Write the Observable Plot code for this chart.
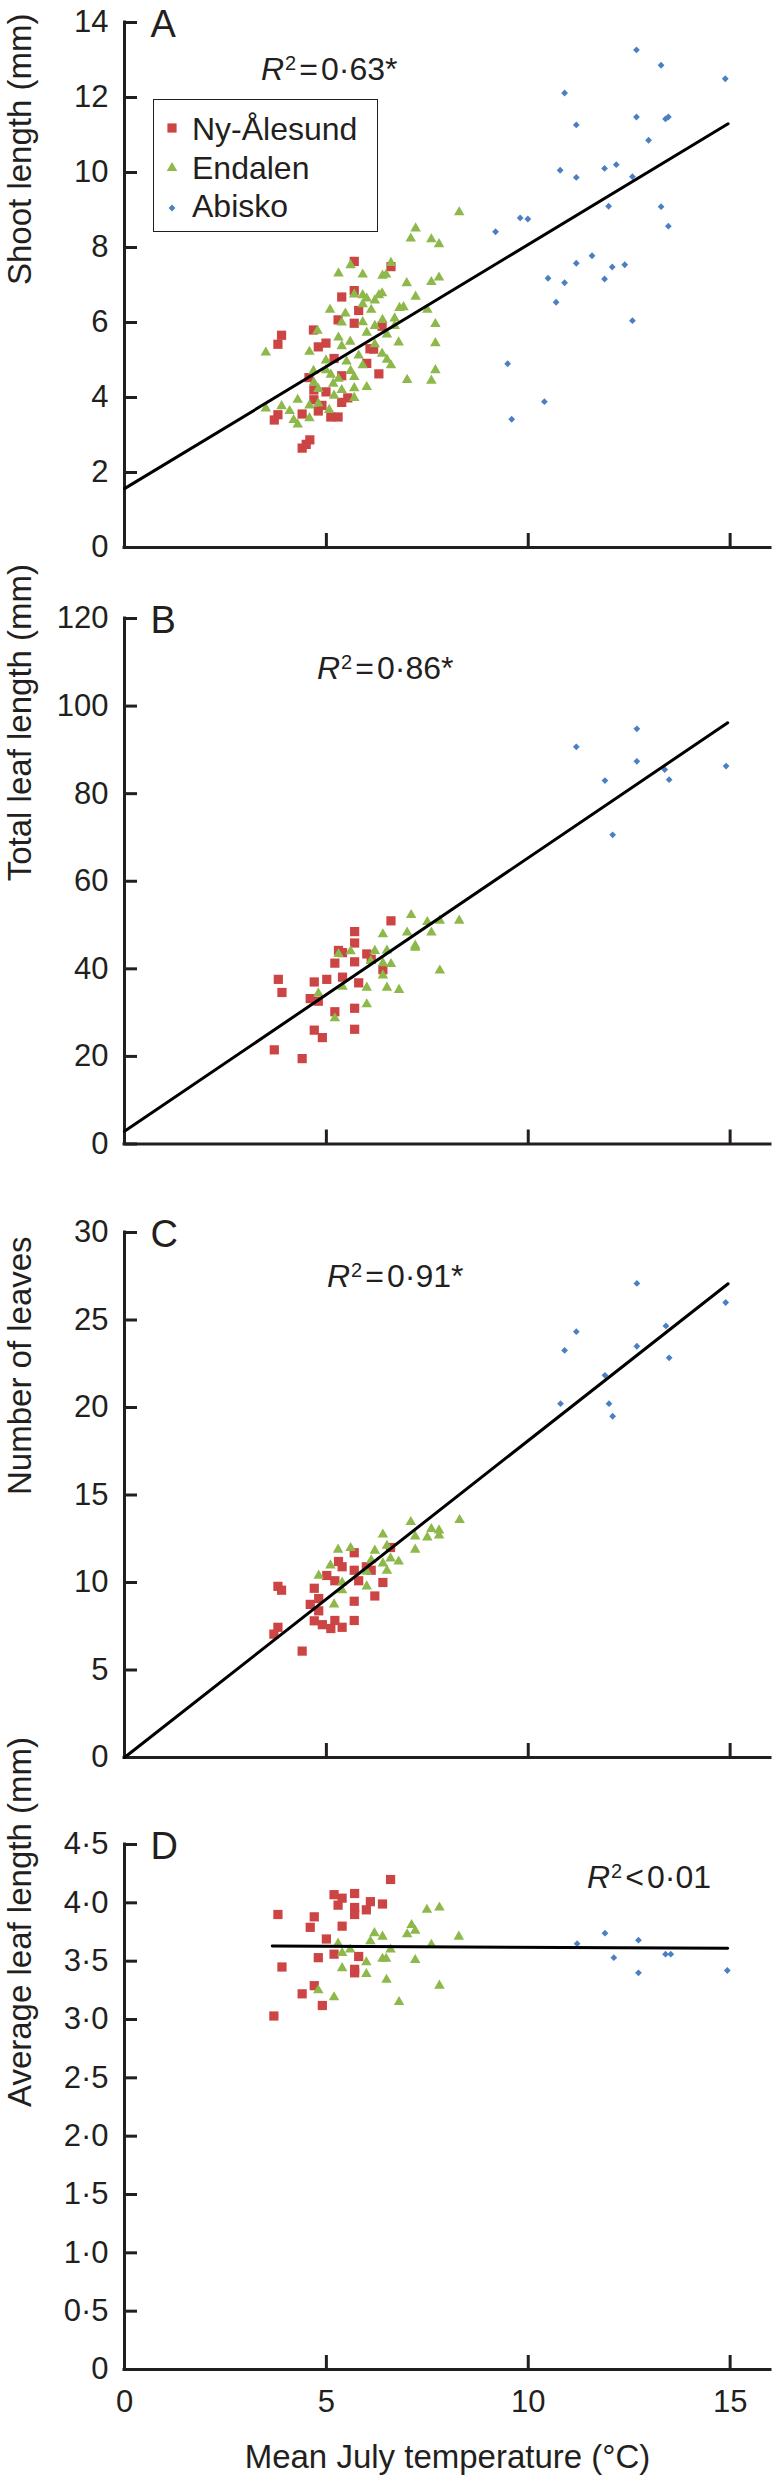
<!DOCTYPE html>
<html><head><meta charset="utf-8">
<script src="https://cdn.jsdelivr.net/npm/d3@7"></script>
<script src="https://cdn.jsdelivr.net/npm/@observablehq/plot@0.6"></script>
<style>
body{margin:0;background:#fff;}
#wrap{position:relative;width:776px;height:2475px;overflow:hidden;font-family:"Liberation Sans",Arial,Helvetica,sans-serif;color:#231f20;}
.panel{position:absolute;left:0;}
.ann{position:absolute;font-size:32px;line-height:32px;white-space:nowrap;}
.ann .sup{font-size:20px;position:relative;top:-10px;margin-left:1px;}
.ann .op{margin:0 3px;}
.legbox{position:absolute;border:1.5px solid #231f20;box-sizing:border-box;}
.legtxt{position:absolute;font-size:32px;line-height:32px;white-space:nowrap;}
.legsw{position:absolute;}
</style></head>
<body><div id="wrap"></div>
<script>
// ---------- data ----------
const seriesNames = ["Ny-Ålesund", "Endalen", "Abisko"];
const seriesColors = ["#cc4443", "#8db84a", "#4a7fc2"];
const xTitle = "Mean July temperature (°C)";
const xTicks = [5, 10, 15];
const xLabelTicks = [0, 5, 10, 15];
const xTickLabels = ["0", "5", "10", "15"];

// Panel A: shoot length
const shootTicks = [0, 2, 4, 6, 8, 10, 12, 14];
const shootTickLabels = ["0", "2", "4", "6", "8", "10", "12", "14"];
const shootNy = [[5.69,7.63],[6.60,7.49],[5.69,6.85],[5.38,6.68],[5.80,6.32],[5.29,6.07],[5.69,5.98],[6.38,5.90],[4.68,5.80],[3.89,5.66],[3.80,5.42],[4.99,5.45],[4.80,5.35],[6.08,5.30],[6.17,5.29],[5.19,5.04],[6.00,4.91],[4.57,4.53],[5.38,4.58],[6.30,4.63],[4.99,4.15],[4.69,4.20],[5.53,3.99],[5.38,3.87],[4.69,3.94],[4.89,3.79],[4.40,3.56],[4.80,3.64],[3.80,3.54],[3.71,3.40],[5.11,3.48],[5.29,3.48],[4.59,2.87],[4.50,2.75],[4.40,2.65]];
const shootEn = [[8.29,8.94],[7.21,8.51],[7.09,8.24],[7.60,8.22],[7.79,8.09],[5.60,7.53],[6.60,7.59],[5.30,7.31],[5.90,7.28],[6.39,7.25],[6.48,7.28],[7.79,7.20],[7.60,7.08],[6.99,7.05],[5.69,6.75],[5.90,6.73],[6.00,6.64],[6.30,6.73],[6.38,6.78],[7.21,6.69],[5.90,6.49],[6.20,6.59],[5.09,6.34],[5.47,6.24],[6.11,6.34],[6.81,6.39],[6.91,6.41],[7.50,6.34],[5.38,6.00],[5.90,6.01],[6.39,6.07],[6.69,6.11],[4.78,5.78],[6.20,5.91],[6.69,5.91],[7.70,5.96],[6.00,5.73],[6.50,5.68],[5.30,5.60],[5.59,5.49],[5.38,5.37],[4.58,5.22],[3.50,5.20],[6.20,5.42],[6.79,5.47],[7.70,5.45],[5.80,5.12],[6.38,5.17],[6.50,5.01],[4.99,4.99],[5.50,4.96],[6.60,4.86],[5.90,4.86],[4.68,4.71],[4.99,4.73],[5.60,4.71],[7.70,4.73],[5.11,4.61],[5.30,4.50],[5.69,4.55],[7.00,4.47],[7.60,4.45],[4.69,4.40],[5.17,4.37],[5.38,4.20],[5.69,4.25],[6.00,4.28],[4.80,4.23],[4.29,3.94],[5.19,4.05],[5.69,3.99],[4.58,3.79],[4.80,3.84],[3.89,3.77],[3.50,3.71],[4.09,3.64],[5.07,3.67],[4.19,3.40],[4.29,3.28],[4.58,3.45]];
const shootAb = [[12.68,13.27],[13.29,12.86],[14.88,12.50],[10.90,12.12],[12.68,11.48],[13.40,11.43],[13.47,11.48],[11.19,11.27],[12.98,10.86],[12.18,10.21],[11.89,10.11],[10.79,10.06],[11.19,9.87],[12.58,9.89],[11.99,9.10],[13.29,9.09],[9.80,8.79],[9.99,8.76],[13.47,8.57],[9.19,8.42],[11.58,7.78],[11.19,7.58],[12.39,7.54],[12.08,7.48],[11.89,7.16],[10.49,7.18],[10.90,7.06],[10.69,6.54],[12.58,6.05],[9.49,4.90],[10.40,3.89],[9.59,3.42]];
const shootFit = [[0, 1.57], [14.95, 11.3]];

// Panel B: total leaf length
const totalTicks = [0, 20, 40, 60, 80, 100, 120];
const totalTickLabels = ["0", "20", "40", "60", "80", "100", "120"];
const totalNy = [[6.60,50.96],[5.70,48.5],[5.70,45.9],[5.30,44.2],[5.40,43.7],[6.00,43.4],[5.21,41.3],[5.70,41.6],[6.11,42.2],[6.40,39.8],[3.81,37.6],[5.01,37.6],[5.40,38.1],[4.70,37.0],[5.80,36.8],[3.90,34.6],[4.60,33.2],[4.80,32.6],[5.21,30.2],[5.70,31.0],[4.70,26.0],[4.90,24.3],[5.70,26.2],[3.71,21.5],[4.40,19.5]];
const totalEn = [[7.10,52.3],[7.50,50.7],[7.81,51.0],[8.29,51.0],[7.00,48.3],[7.60,48.3],[6.40,47.9],[5.60,44.0],[6.20,44.1],[6.50,44.2],[5.30,43.4],[7.20,45.3],[7.20,44.8],[6.10,41.8],[6.40,41.3],[6.60,41.1],[6.40,38.5],[7.81,39.6],[4.80,34.4],[5.40,35.9],[6.00,35.7],[6.50,35.7],[6.80,35.2],[6.00,31.9],[5.21,28.7]];
const totalAb = [[12.69,94.8],[11.19,90.7],[12.69,87.4],[14.90,86.3],[13.38,85.5],[11.90,83.0],[13.49,83.2],[12.09,70.6]];
const totalFit = [[0, 2.9], [14.94, 96.2]];

// Panel C: number of leaves
const leavesTicks = [0, 5, 10, 15, 20, 25, 30];
const leavesTickLabels = ["0", "5", "10", "15", "20", "25", "30"];
const leavesNy = [[5.69,11.7],[5.30,11.2],[5.39,10.9],[6.59,12.0],[5.99,10.9],[5.69,10.7],[6.11,10.7],[5.01,10.4],[5.21,10.1],[5.80,10.1],[6.40,10.0],[3.80,9.78],[3.89,9.56],[4.70,9.67],[4.81,9.08],[6.20,9.23],[4.60,8.75],[5.69,8.93],[4.81,8.38],[4.70,7.81],[4.90,7.59],[5.21,7.83],[5.69,7.83],[3.80,7.44],[3.70,7.05],[5.11,7.37],[5.39,7.44],[4.40,6.08]];
const leavesEn = [[7.09,13.46],[8.30,13.57],[7.60,13.06],[7.79,12.98],[7.79,12.69],[7.20,12.63],[7.50,12.58],[6.40,12.74],[5.29,11.88],[5.60,11.97],[6.20,11.82],[7.20,11.88],[6.50,12.10],[6.11,11.27],[6.59,11.38],[6.79,11.20],[6.40,11.09],[5.10,10.98],[6.50,10.68],[6.00,10.61],[4.81,10.39],[5.39,10.0],[5.39,9.56],[6.00,9.78],[5.19,8.75]];
const leavesAb = [[12.69,27.09],[14.89,26.0],[11.19,24.33],[13.41,24.66],[10.90,23.26],[12.69,23.50],[13.49,22.84],[11.90,21.84],[10.80,20.22],[12.00,20.22],[12.09,19.50]];
const leavesFit = [[0, 0], [14.95, 27.07]];

// Panel D: average leaf length
const avgTicks = [0, 0.5, 1, 1.5, 2, 2.5, 3, 3.5, 4, 4.5];
const avgTickLabels = ["0", "0·5", "1·0", "1·5", "2·0", "2·5", "3·0", "3·5", "4·0", "4·5"];
const avgNy = [[6.59,4.20],[5.70,4.08],[5.19,4.07],[5.39,4.04],[5.29,3.98],[6.09,4.01],[6.39,3.99],[5.70,3.96],[5.99,3.94],[5.70,3.90],[3.80,3.90],[4.70,3.88],[4.60,3.79],[5.39,3.80],[5.00,3.69],[5.19,3.56],[4.80,3.53],[5.80,3.54],[3.90,3.45],[5.70,3.43],[5.70,3.40],[4.70,3.29],[4.40,3.22],[4.90,3.12],[3.70,3.03]];
const avgEn = [[7.80,3.96],[7.49,3.94],[7.11,3.81],[7.20,3.76],[7.00,3.73],[8.28,3.71],[6.19,3.74],[6.39,3.71],[6.09,3.67],[5.29,3.65],[7.60,3.64],[5.59,3.60],[6.59,3.60],[5.39,3.57],[5.99,3.49],[6.39,3.52],[6.48,3.52],[7.20,3.51],[5.39,3.44],[5.99,3.39],[6.49,3.34],[7.80,3.29],[4.80,3.25],[5.19,3.19],[6.80,3.15]];
const avgAb = [[11.21,3.65],[11.90,3.74],[12.73,3.68],[12.12,3.53],[13.40,3.56],[13.53,3.56],[12.73,3.40],[14.93,3.42]];
const avgFit = [[3.66, 3.63], [14.94, 3.61]];

const r2Ops = ["=", "=", "=", "<"];
const r2Values = ["0·63*", "0·86*", "0·91*", "0·01"];

// ---------- layout / drawing ----------
const W = 776, ML = 124, MR = 6;
const INK = "#231f20";
const FONT = '"Liberation Sans", Arial, Helvetica, sans-serif';
const symbols = ["square", "triangle", "diamond2"];
const radii = [5.2, 3.9, 3.05];
const d3Symbols = [d3.symbolSquare, d3.symbolTriangle, d3.symbolDiamond2];

const panels = [
  {top: 0, height: 600, mt: 22, mb: 53, domain: [0, 14], ticks: shootTicks, tickLabels: shootTickLabels, label: "Shoot length (mm)", letter: "A", series: [shootNy, shootEn, shootAb], fit: shootFit, r2: {left: 261, base: 80}},
  {top: 600, height: 600, mt: 18, mb: 56.5, domain: [0, 120], ticks: totalTicks, tickLabels: totalTickLabels, label: "Total leaf length (mm)", letter: "B", series: [totalNy, totalEn, totalAb], fit: totalFit, r2: {left: 317, base: 678.5}},
  {top: 1200, height: 600, mt: 32, mb: 43, domain: [0, 30], ticks: leavesTicks, tickLabels: leavesTickLabels, label: "Number of leaves", letter: "C", series: [leavesNy, leavesEn, leavesAb], fit: leavesFit, r2: {left: 327, base: 1287}},
  {top: 1800, height: 675, mt: 44, mb: 106, domain: [0, 4.5], ticks: avgTicks, tickLabels: avgTickLabels, label: "Average leaf length (mm)", letter: "D", series: [avgNy, avgEn, avgAb], fit: avgFit, r2: {left: 587, base: 1888}, xAxis: true}
];

const wrap = document.getElementById("wrap");

panels.forEach((p, pi) => {
  const ph = p.height - p.mt - p.mb;
  const pw = W - ML - MR;
  const marks = [
    Plot.ruleY(p.ticks, {y: d => d, insetRight: pw - 13, stroke: INK, strokeWidth: 3}),
    Plot.ruleX(xTicks, {x: d => d, insetTop: ph - 14, stroke: INK, strokeWidth: 3}),
    Plot.ruleX([0], {x: d => d, stroke: INK, strokeWidth: 3, strokeLinecap: "square"}),
    Plot.ruleY([0], {y: d => d, stroke: INK, strokeWidth: 3, strokeLinecap: "square"}),
    Plot.axisY(p.ticks, {tickSize: 0, tickPadding: 16, fontSize: 31, tickFormat: d => p.tickLabels[p.ticks.indexOf(d)], label: null}),
    Plot.text([p.label], {text: d => d, frameAnchor: "left", rotate: -90, lineAnchor: "top", dx: -117, fontSize: 33}),
    Plot.text([p.letter], {text: d => d, frameAnchor: "top-left", textAnchor: "start", lineAnchor: "bottom", dx: 26, dy: 14, fontSize: 38})
  ];
  p.series.forEach((s, si) => {
    marks.push(Plot.dot(s, {x: d => d[0], y: d => d[1], symbol: symbols[si], r: radii[si], fill: seriesColors[si], stroke: "none"}));
  });
  marks.push(Plot.line(p.fit, {x: d => d[0], y: d => d[1], stroke: "#000", strokeWidth: 3}));
  if (p.xAxis) {
    marks.push(Plot.axisX(xLabelTicks, {tickSize: 0, tickPadding: 20, fontSize: 31, tickFormat: d => xTickLabels[xLabelTicks.indexOf(d)], label: null}));
    marks.push(Plot.text([xTitle], {text: d => d, frameAnchor: "bottom", lineAnchor: "bottom", dy: 98, fontSize: 33}));
  }
  const chart = Plot.plot({
    width: W, height: p.height,
    marginLeft: ML, marginRight: MR, marginTop: p.mt, marginBottom: p.mb,
    style: {fontFamily: FONT, color: INK, background: "transparent", overflow: "visible"},
    x: {domain: [0, 16], axis: null},
    y: {domain: p.domain, axis: null},
    marks
  });
  chart.classList.add("panel");
  chart.style.top = p.top + "px";
  wrap.appendChild(chart);

  // R² annotation
  const a = document.createElement("div");
  a.className = "ann";
  a.style.left = p.r2.left + "px";
  a.style.top = (p.r2.base - 27) + "px";
  a.innerHTML = `<i>R</i><span class="sup">2</span><span class="op">${r2Ops[pi]}</span>${r2Values[pi]}`;
  wrap.appendChild(a);
});

// legend (panel A)
const box = document.createElement("div");
box.className = "legbox";
Object.assign(box.style, {left: "153px", top: "99px", width: "225px", height: "133px"});
wrap.appendChild(box);
const legBase = [139.7, 178.5, 217];
const legMarkY = [127.5, 168, 207.5];
seriesNames.forEach((name, i) => {
  const t = document.createElement("div");
  t.className = "legtxt";
  t.style.left = "192px";
  t.style.top = (legBase[i] - 27) + "px";
  t.textContent = name;
  wrap.appendChild(t);
  const sw = document.createElementNS("http://www.w3.org/2000/svg", "svg");
  sw.setAttribute("width", 20); sw.setAttribute("height", 20);
  sw.setAttribute("class", "legsw");
  sw.style.left = (172 - 10) + "px";
  sw.style.top = (legMarkY[i] - 10) + "px";
  const path = document.createElementNS("http://www.w3.org/2000/svg", "path");
  path.setAttribute("d", d3.symbol(d3Symbols[i], Math.PI * radii[i] * radii[i])());
  path.setAttribute("transform", "translate(10,10)");
  path.setAttribute("fill", seriesColors[i]);
  sw.appendChild(path);
  wrap.appendChild(sw);
});
</script></body></html>
